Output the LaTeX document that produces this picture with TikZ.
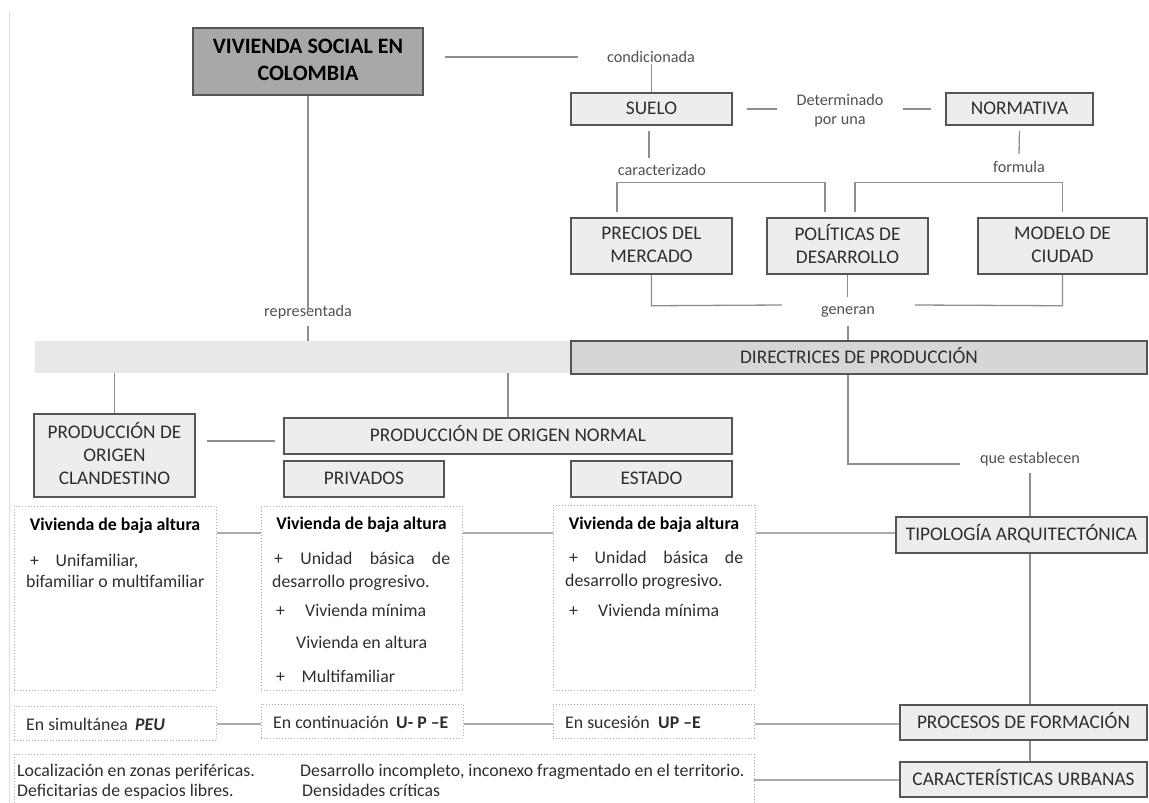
\documentclass[tikz,border=0pt]{standalone}
\usepackage{fontspec}
\setmainfont{Carlito}
\usetikzlibrary{calc}
\definecolor{bxfill}{HTML}{EDEDED}
\definecolor{bxline}{HTML}{555555}
\definecolor{vivfill}{HTML}{A8A8A8}
\definecolor{dirfill}{HTML}{D6D6D6}
\definecolor{barfill}{HTML}{E8E8E8}
\definecolor{conn}{HTML}{8E8E8E}
\definecolor{dotc}{HTML}{ABABAB}
\definecolor{txt}{HTML}{2E2E2E}
\definecolor{lbl}{HTML}{505050}
\definecolor{edge}{HTML}{DDDDDD}
\newcommand{\fbx}{\fontsize{19.3}{23}\selectfont}
\newcommand{\fviv}{\fontsize{22}{27}\selectfont\bfseries}
\newcommand{\flb}{\fontsize{16.2}{19.5}\selectfont}
\newcommand{\fdt}{\fontsize{17.8}{21}\selectfont}
\newcommand{\sr}{\rule[-4.5pt]{0pt}{19pt}}
\tikzset{
  bx/.style={draw=bxline, line width=1.5pt, fill=bxfill, inner sep=0pt, align=center, text=txt, font=\fbx},
  dbox/.style={draw=dotc, dotted, line width=1pt, inner sep=0pt},
  lab/.style={text=lbl, font=\flb, inner sep=1pt, align=center},
  cn/.style={draw=conn, line width=1.3pt},
  dcn/.style={draw=dotc, line width=1.3pt},
  tx/.style={text=txt, font=\fdt, inner sep=0pt, anchor=base west},
  ttl/.style={text=black, font=\fdt\bfseries, inner sep=0pt, anchor=base},
}
\begin{document}
\begin{tikzpicture}[x=1pt,y=-1pt]
\useasboundingbox (0,0) rectangle (1149,803);
\draw[edge, line width=1pt] (9,12) -- (9,803);

% ---- main boxes
\node[bx, fill=vivfill, font=\fviv, text=black, minimum width=230pt, minimum height=67pt] (viv) at (308,61.5) {\sr VIVIENDA SOCIAL EN\\\sr COLOMBIA};
\node[bx, minimum width=161pt, minimum height=32pt] (suelo) at (651.5,109) {\sr SUELO};
\node[bx, minimum width=147pt, minimum height=32pt] (norm) at (1019.5,109) {\sr NORMATIVA};
\node[bx, minimum width=161pt, minimum height=56pt] (precios) at (651.5,246) {\sr PRECIOS DEL\\\sr MERCADO};
\node[bx, minimum width=161pt, minimum height=56pt] (polit) at (847.5,246) {\sr POLÍTICAS DE\\\sr DESARROLLO};
\node[bx, minimum width=169pt, minimum height=56pt] (modelo) at (1062.5,246) {\sr MODELO DE\\\sr CIUDAD};
\node[fill=barfill, inner sep=0pt, minimum width=537pt, minimum height=32pt] (bar) at (303.5,357) {};
\node[bx, fill=dirfill, minimum width=576pt, minimum height=33pt] (direc) at (859,357.5) {\sr DIRECTRICES DE PRODUCCIÓN};
\node[bx, minimum width=161pt, minimum height=83pt] (clan) at (114.5,455.5) {\sr PRODUCCIÓN DE\\\sr ORIGEN\\\sr CLANDESTINO};
\node[bx, minimum width=448pt, minimum height=36pt] (normal) at (508,436) {\sr PRODUCCIÓN DE ORIGEN NORMAL};
\node[bx, minimum width=160pt, minimum height=36pt] (priv) at (364,479) {\sr PRIVADOS};
\node[bx, minimum width=161pt, minimum height=36pt] (estado) at (651.5,479) {\sr ESTADO};
\node[bx, minimum width=251pt, minimum height=36pt] (tipo) at (1021.5,535) {\sr TIPOLOGÍA ARQUITECTÓNICA};
\node[bx, minimum width=247pt, minimum height=35pt] (proc) at (1023.5,722.5) {\sr PROCESOS DE FORMACIÓN};
\node[bx, minimum width=247pt, minimum height=35pt] (car) at (1023.5,779.5) {\sr CARACTERÍSTICAS URBANAS};

% ---- labels
\node[lab] (cond) at (651,57) {condicionada};
\node[lab] (det) at (840,110.5) {Determinado\\por una};
\node[lab] (form) at (1019,167) {formula};
\node[lab] (carac) at (662,170) {caracterizado};
\node[lab] (gen) at (848,312) {generan};
\node[lab] (rep) at (308,312) {representada};
\node[lab] (que) at (1030,459) {que establecen};

% ---- dotted boxes
\node[dbox, minimum width=202pt, minimum height=184pt] (d1) at (115,598) {};
\node[dbox, minimum width=201pt, minimum height=184pt] (d2) at (361.5,598) {};
\node[dbox, minimum width=202pt, minimum height=185pt] (d3) at (654,597.5) {};
\node[dbox, minimum width=202pt, minimum height=34pt] (s1) at (115,723) {};
\node[dbox, minimum width=202pt, minimum height=34pt] (s2) at (362,721) {};
\node[dbox, minimum width=201pt, minimum height=34pt] (s3) at (653.5,721) {};
\coordinate (bA) at (14,806);
\coordinate (bB) at (14,754);
\coordinate (bC) at (754,754);
\coordinate (bD) at (754,806);
\draw[dotc, dotted, line width=1pt] (bA) -- (bB) -- (bC) -- (bD);
\coordinate (bR) at (754,780);

% ---- texts in dotted boxes
\node[ttl] (t1) at (115,530) {Vivienda de baja altura};
\node[tx] (t1a) at (30,566) {+};
\node[tx] (t1b) at (55.5,566) {Unifamiliar,};
\node[tx] (t1c) at (26,587) {bifamiliar o multifamiliar};

\node[ttl] (t2) at (361.5,529) {Vivienda de baja altura};
\node[tx] (t2a) at (274,564) {\makebox[176pt][s]{+ Unidad básica de}};
\node[tx] (t2b) at (272,587) {desarrollo progresivo.};
\node[tx] (t2c) at (276,616) {+};
\node[tx] (t2d) at (305,616) {Vivienda mínima};
\node[tx] (t2e) at (296,648) {Vivienda en altura};
\node[tx] (t2f) at (276,682) {+};
\node[tx] (t2g) at (301.5,682) {Multifamiliar};

\node[ttl] (t3) at (654,529) {Vivienda de baja altura};
\node[tx] (t3a) at (569,563) {\makebox[174pt][s]{+ Unidad básica de}};
\node[tx] (t3b) at (565,586) {desarrollo progresivo.};
\node[tx] (t3c) at (569,616) {+};
\node[tx] (t3d) at (598,616) {Vivienda mínima};

\node[tx] (u1) at (26,730) {En simultánea};
\node[tx, font=\fdt\bfseries\itshape] (u1b) at (135,730) {PEU};
\node[tx] (u2) at (273,728) {En continuación};
\node[tx, font=\fdt\bfseries] (u2b) at (396,728) {U- P –E};
\node[tx] (u3) at (565,728) {En sucesión};
\node[tx, font=\fdt\bfseries] (u3b) at (658,728) {UP –E};

\node[tx] (v1) at (17,776) {Localización en zonas periféricas.};
\node[tx] (v2) at (17,796) {Deficitarias de espacios libres.};
\node[tx] (v3) at (300,776) {Desarrollo incompleto, inconexo fragmentado en el territorio.};
\node[tx] (v4) at (302,796) {Densidades críticas};

% ---- connectors (top)
\draw[cn] ([xshift=21pt]viv.east |- cond) -- ([xshift=-28pt]cond.west);
\draw[cn] (cond.south -| suelo.north) -- (suelo.north);
\draw[cn] ([xshift=14pt]suelo.east) -- ([xshift=44pt]suelo.east);
\draw[cn] ([xshift=-42pt]norm.west) -- ([xshift=-14pt]norm.west);
\draw[cn] ([yshift=-5pt]norm.south) -- ([yshift=6pt]form.north);
\draw[cn] ([xshift=-2.5pt,yshift=-5pt]suelo.south) -- ([xshift=-2.5pt,yshift=-32pt]suelo.south);
\draw[cn] ([xshift=-34.5pt,yshift=5pt]precios.north) -- ++(0,-30) -|  ([xshift=-22.5pt,yshift=5pt]polit.north);
\draw[cn] ([xshift=7.5pt,yshift=5pt]polit.north) -- ++(0,-30) -| ([yshift=5pt]modelo.north);
\draw[cn] (precios.south) -- ++(0,31) -- ([xshift=-66pt]gen.south |- 0,305);
\draw[cn] (polit.south) -- ([yshift=-22pt]polit.south);
\draw[cn] (modelo.south) -- ++(0,31) -- ([xshift=67pt]gen.south |- 0,305);
\draw[cn] ([yshift=-7pt]gen.south) -- (gen.south |- direc.north);
\draw[cn] (viv.south) -- ([yshift=-8pt]rep.north);
\draw[cn] ([yshift=-6pt]rep.south) -- (rep.south |- bar.north);

% ---- connectors (middle)
\draw[cn] (bar.south -| clan.north) -- (clan.north);
\draw[cn] (bar.south -| normal.north) -- (normal.north);
\draw[cn] ([xshift=11pt]clan.east |- 0,441) -- ([xshift=-8pt]normal.west |- 0,441);
\draw[cn] (gen.south |- direc.south) -- (gen.south |- 0,464) -- ([xshift=-19pt]que.west |- 0,464);
\draw[cn] ([yshift=-6pt]que.south) -- (que.south |- tipo.north);
\draw[cn] (que.south |- tipo.south) -- (que.south |- proc.north);
\draw[cn] (que.south |- proc.south) -- (que.south |- car.north);

% ---- connectors (dotted rows)
\draw[dcn] (d1.east |- 0,533) -- (d2.west |- 0,533);
\draw[dcn] (d2.east |- 0,533) -- (d3.west |- 0,533);
\draw[dcn] (d3.east |- 0,533) -- (tipo.west |- 0,533);
\draw[dcn] (s1.east |- 0,724) -- (s2.west |- 0,724);
\draw[dcn] (s2.east |- 0,724) -- (s3.west |- 0,724);
\draw[dcn] (s3.east |- 0,724) -- (proc.west |- 0,724);
\draw[dcn] (bR) -- (car.west |- bR);
\end{tikzpicture}
\end{document}
